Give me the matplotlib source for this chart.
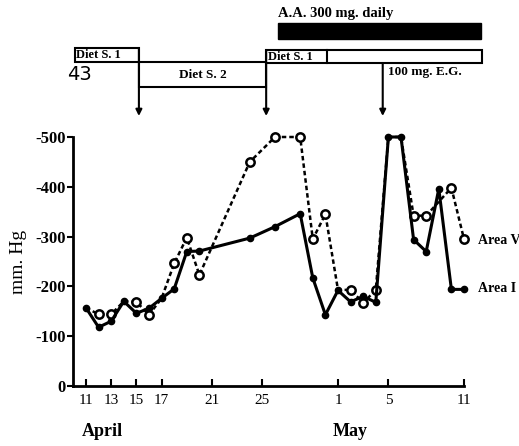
import matplotlib
matplotlib.use("Agg")
import matplotlib.pyplot as plt
from matplotlib.patches import Rectangle
from matplotlib.transforms import blended_transform_factory

# ---- data (days counted from April 11) ----
area_i_days = [0, 1, 2, 3, 4, 5, 6, 7, 8, 9, 13, 15, 17, 18, 19, 20, 21, 22, 23, 24, 25, 26, 27, 28, 29, 30]
area_i_vals = [157, 118, 130, 170, 146, 156, 176, 195, 270, 271, 297, 320, 346, 217, 143, 192, 169, 180, 168, 500, 500, 294, 270, 396, 194, 194]

area_v_days = [0, 1, 2, 3, 4, 5, 6, 7, 8, 9, 13, 15, 17, 18, 19, 20, 21, 22, 23, 24, 25, 26, 27, 29, 30]
area_v_vals = [157, 144, 144, 170, 169, 143, 176, 246, 298, 223, 450, 500, 500, 295, 345, 193, 193, 167, 193, 500, 500, 342, 342, 398, 295]
area_v_shared = [0, 3, 6, 20, 24, 25]   # points shared with Area I (no open marker)

tick_days = [0, 2, 4, 6, 10, 14, 20, 24, 30]
tick_labels = ["11", "13", "15", "17", "21", "25", "1", "5", "11"]
y_ticks = [0, 100, 200, 300, 400, 500]
y_labels = ["0", "-100", "-200", "-300", "-400", "-500"]

SERIF = ["Liberation Serif", "DejaVu Serif"]
plt.rcParams["font.family"] = SERIF

W, H = 519, 446
fig = plt.figure(figsize=(W / 100, H / 100), dpi=100)
ax = fig.add_axes([73 / W, 1 - 386 / H, (464 - 73) / W, (386 - 137) / H])

ax.set_xlim(-1.03, 30)
ax.set_ylim(0, 500)

v_mark = [i for i in range(len(area_v_days)) if area_v_days[i] not in area_v_shared]
ax.plot(area_v_days, area_v_vals, color="black", lw=1.8, ls=(0, (1.8, 1.2)),
        marker="o", ms=6, mfc="white", mec="black", mew=1.8,
        markevery=v_mark, clip_on=False, zorder=3)
ax.plot(area_i_days, area_i_vals, color="black", lw=2.2, ls="-",
        marker="o", ms=4.5, mfc="black", mec="black",
        clip_on=False, zorder=4)

ax.text(31.1, 293, "Area V", fontsize=10, fontweight="bold", va="center", ha="left", clip_on=False)
ax.text(31.1, 195, "Area I", fontsize=10, fontweight="bold", va="center", ha="left", clip_on=False)

for s in ["top", "right"]:
    ax.spines[s].set_visible(False)
ax.spines["left"].set_linewidth(2)
ax.spines["bottom"].set_linewidth(2)
ax.spines["left"].set_bounds(0, 500)
ax.spines["bottom"].set_bounds(-1.03, 30)

ax.set_xticks(tick_days)
ax.set_xticklabels(tick_labels, fontsize=11)
ax.set_yticks(y_ticks)
ax.set_yticklabels(y_labels, fontsize=12, fontweight="bold")
ax.tick_params(axis="x", direction="in", length=5, width=1.5, pad=6)
ax.tick_params(axis="y", direction="out", length=4, width=1.5, pad=1)

ax.set_ylabel("mm. Hg", fontsize=14, labelpad=6)

trans = blended_transform_factory(ax.transData, fig.transFigure)


def fy(px):
    return 1 - px / H


fig.text(82 / W, fy(432), "April", fontsize=13, fontweight="bold", va="center", ha="left")
fig.text(333 / W, fy(432), "May", fontsize=13, fontweight="bold", va="center", ha="left")

# top annotations
ax.text(15.24, fy(13), "A.A. 300 mg. daily", transform=trans, fontsize=10.5,
        fontweight="bold", va="center", ha="left", clip_on=False)
ax.add_patch(Rectangle((15.2, fy(39)), 31.35 - 15.2, (39 - 23) / H, transform=trans,
                       facecolor="black", edgecolor="black", clip_on=False))

ax.add_patch(Rectangle((-0.87, fy(62)), 4.2 + 0.87, (62 - 48) / H, transform=trans,
                       facecolor="white", edgecolor="black", lw=1.5, clip_on=False))
ax.text(-0.8, fy(55.5), "Diet S. 1", transform=trans, fontsize=9, fontweight="bold",
        va="center", ha="left", clip_on=False)

ax.add_patch(Rectangle((4.2, fy(87)), 14.3 - 4.2, (87 - 62) / H, transform=trans,
                       facecolor="none", edgecolor="black", lw=1.5, clip_on=False))
ax.text(9.25, fy(75), "Diet S. 2", transform=trans, fontsize=9.5, fontweight="bold",
        va="center", ha="center", clip_on=False)

ax.add_patch(Rectangle((14.3, fy(63)), 31.4 - 14.3, (63 - 50) / H, transform=trans,
                       facecolor="white", edgecolor="black", lw=1.5, clip_on=False))
ax.plot([19.1, 19.1], [fy(63), fy(50)], transform=trans, color="black", lw=1.5, clip_on=False)
ax.text(14.45, fy(57), "Diet S. 1", transform=trans, fontsize=9, fontweight="bold",
        va="center", ha="left", clip_on=False)

fig.text(67 / W, fy(75), "43", fontsize=14, family=["DejaVu Sans"], va="center", ha="left")
ax.text(23.97, fy(72), "100 mg. E.G.", transform=trans, fontsize=9.5, fontweight="bold",
        va="center", ha="left", clip_on=False)

for xd, ytop in [(4.2, 48), (14.3, 50), (23.55, 63)]:
    ax.annotate("", xy=(xd, fy(116)), xytext=(xd, fy(ytop)), xycoords=trans, textcoords=trans,
                arrowprops=dict(arrowstyle="-|>", lw=1.5, color="black", mutation_scale=9,
                                shrinkA=0, shrinkB=0),
                annotation_clip=False)

fig.savefig("out.png", dpi=100)
